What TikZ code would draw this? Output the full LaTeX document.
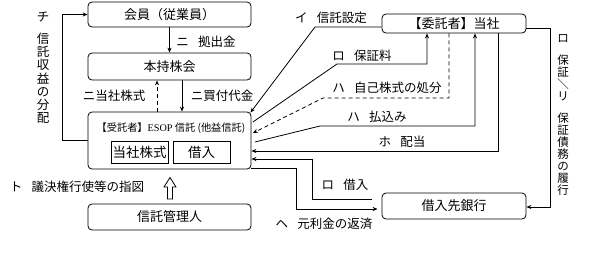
\documentclass[tikz,border=0pt]{standalone}
\usepackage{fontspec}
\setmainfont{Noto Sans CJK JP}
\newfontfamily\latserif{Liberation Serif}
\usetikzlibrary{arrows.meta}
\newcommand\kgap{\hspace{0.75em}}
\begin{document}
\begin{tikzpicture}[x=1pt,y=-1pt,
  box/.style={draw, rounded corners=4pt, line width=0.8pt, inner sep=0pt, font=\fontsize{13}{15}\selectfont},
  ibox/.style={draw, line width=0.8pt, inner sep=0pt, font=\fontsize{13.5}{15}\selectfont},
  conn/.style={line width=0.8pt, -{Stealth[length=5pt,width=4pt]}},
  dconn/.style={conn, dash pattern=on 4pt off 3pt},
  lbl/.style={font=\fontsize{12.5}{14}\selectfont, inner sep=0pt},
  vlbl/.style={font=\fontsize{12.5}{13.2}\selectfont, inner sep=0pt, align=center, anchor=north}]
\useasboundingbox (0,0) rectangle (600,255);
% boxes
\node[box, minimum width=163pt, minimum height=25pt] (kaiin) at (169.5,14.5) {会員（従業員）};
\node[box, minimum width=163pt, minimum height=27pt] (mochi) at (169.5,66.5) {本持株会};
\node[box, minimum width=163pt, minimum height=57pt] (esop) at (169.5,140.5) {};
\node[inner sep=0pt, font=\fontsize{10.2}{12}\selectfont] (esoptitle) at (171,128) {【受託者】{\latserif ESOP} 信託 ({}他益信託)};
\node[ibox, minimum width=57pt, minimum height=22pt] (kabu) at (139.5,152) {当社株式};
\node[ibox, minimum width=57pt, minimum height=22pt] (kari) at (201.5,152) {借入};
\node[box, minimum width=163pt, minimum height=26pt] (kanri) at (169.5,217) {信託管理人};
\node[box, minimum width=144pt, minimum height=19pt] (itaku) at (454,23.5) {【委託者】当社};
\node[box, minimum width=144pt, minimum height=26pt] (bank) at (454,206) {借入先銀行};
% connectors
\draw[conn] (kaiin.south) -- (mochi.north);
\draw[dconn] ([xshift=-12.5pt]esop.north) -- ([xshift=-12.5pt]mochi.south);
\draw[conn] ([xshift=12.5pt]mochi.south) -- ([xshift=12.5pt]esop.north);
\draw[conn] (esop.west) -- ++(-25,0) |- (kaiin.west);
\draw[conn] ([yshift=-3.5pt]itaku.west) -- (315,27) -- ([xshift=-1pt,yshift=-1pt]esop.north east);
\draw[conn] ([xshift=1.5pt,yshift=18.5pt]esop.east) -- (337,64) -| ([xshift=-27pt]itaku.south);
\draw[dconn] ([xshift=-5pt]itaku.south) |- (323,98) -- ([xshift=1.5pt,yshift=7.5pt]esop.east);
\draw[conn] ([xshift=3.5pt,yshift=-1.5pt]esop.east) -- (320,126) -| ([xshift=21pt]itaku.south);
\draw[conn] ([xshift=44pt]itaku.south) |- ([yshift=-10.5pt]esop.east);
\coordinate (kstart) at ([xshift=-10pt,yshift=7pt]bank.west);
\draw[conn] (kstart) -- (312,199) |- ([yshift=-18.5pt]esop.east);
\draw[conn, shorten >=4pt] ([yshift=-28pt]esop.east) -- (296,168.5) |- ([yshift=-3pt]bank.west);
\draw[conn] ([yshift=-4.5pt]itaku.east) -- (550,28) |- ([yshift=-1pt]bank.east);
% hollow arrow
\draw[line width=0.8pt, line join=miter] (167.5,199) -- (167.5,187) -- (164,187) -- (170,177.5) -- (176,187) -- (172.5,187) -- (172.5,199) -- cycle;
% labels
\node[lbl] (l1) at (206,42) {ニ\kgap 拠出金};
\node[lbl] (l2) at (114,96) {ニ当社株式};
\node[lbl] (l3) at (222,96) {ニ買付代金};
\node[lbl] (l4) at (331,18) {イ\kgap 信託設定};
\node[lbl] (l5) at (362,56) {ロ\kgap 保証料};
\node[lbl] (l6) at (387,88) {ハ\kgap 自己株式の処分};
\node[lbl] (l7) at (377,117) {ハ\kgap 払込み};
\node[lbl] (l8) at (402,142) {ホ\kgap 配当};
\node[lbl] (l9) at (345,185) {ロ\kgap 借入};
\node[lbl] (l10) at (324,224) {ヘ\kgap 元利金の返済};
\node[lbl] (l11) at (77,187) {ト\kgap 議決権行使等の指図};
\node[vlbl] (l12) at (43,11.5) {チ\\[9pt]信\\託\\収\\益\\の\\分\\配};
\node[vlbl, font=\fontsize{11.5}{12}\selectfont] (l13) at (563,34) {ロ\\[10pt]保\\証\\＼\\リ\\[10pt]保\\証\\債\\務\\の\\履\\行};
\end{tikzpicture}
\end{document}
